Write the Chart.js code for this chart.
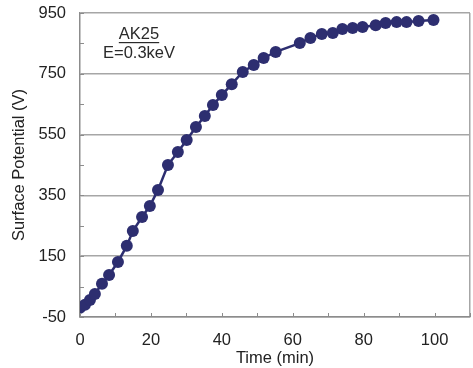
<!DOCTYPE html>
<html>
<head>
<meta charset="utf-8">
<script src="https://cdn.jsdelivr.net/npm/chart.js@4"></script>
<style>
  html, body { margin: 0; padding: 0; background: #fff; overflow: hidden; }
  #wrap { width: 476px; height: 368px; }
</style>
</head>
<body>
<div id="wrap"><canvas id="grafico"></canvas></div>
<script>
// Tempo de carregamento (min) e potencial de superfície medido (V)
const tempos = [0, 1.4, 2.8, 4.2, 6.2, 8.2, 10.7, 13.2, 14.9, 17.5, 19.7, 22,
    24.8, 27.6, 30.1, 32.7, 35.2, 37.5, 40, 42.8, 45.9, 49, 51.8, 55.2,
    62, 65, 68.2, 71.3, 74, 76.9, 79.7, 83.4, 86.2, 89.3, 92.1, 95.5, 99.7];
const potenciais = [-20, -10, 6, 26, 59, 88, 131, 184, 233, 279, 315, 368,
    450, 493, 532, 575, 611, 647, 680, 716, 756, 779, 802, 822,
    851, 868, 881, 884, 897, 901, 904, 910, 917, 920, 920, 924, 927];

const rotulosY = [-50, 150, 350, 550, 750, 950];
const rotulosX = [0, 20, 40, 60, 80, 100];

const amostra = 'AK25';
const energia = 'E=0.3keV';

const corSerie = '#2d2e70';
const corGrade = '#a6a6a6';
const fonte = "'Liberation Sans', Arial, sans-serif";

// Marcas internas dos eixos e a legenda de texto dentro do gráfico
const marcasInternas = {
    id: 'marcasInternas',
    afterDraw(chart) {
        const { ctx, chartArea, scales } = chart;
        ctx.save();
        ctx.strokeStyle = '#8c8c8c';
        ctx.lineWidth = 1;
        ctx.beginPath();
        scales.y.ticks.forEach(t => {
            const py = Math.round(scales.y.getPixelForValue(t.value)) + 0.5;
            ctx.moveTo(chartArea.left, py);
            ctx.lineTo(chartArea.left + 4, py);
        });
        scales.x.ticks.forEach(t => {
            const px = Math.round(scales.x.getPixelForValue(t.value)) + 0.5;
            ctx.moveTo(px, chartArea.bottom);
            ctx.lineTo(px, chartArea.bottom - 4);
        });
        ctx.stroke();

        // texto da amostra
        ctx.fillStyle = '#2a2a2a';
        ctx.font = '16.5px ' + fonte;
        ctx.textAlign = 'center';
        ctx.textBaseline = 'middle';
        const cx = 139;
        ctx.fillText(amostra, cx, 34);
        const w = ctx.measureText(amostra).width;
        ctx.fillRect(cx - w / 2, 42, w, 1.2);
        ctx.fillText(energia, cx, 53);
        ctx.restore();
    }
};

new Chart(document.getElementById('grafico'), {
    type: 'line',
    data: {
        datasets: [{
            data: tempos.map((t, i) => ({ x: t, y: potenciais[i] })),
            borderColor: corSerie,
            backgroundColor: corSerie,
            borderWidth: 2.5,
            pointRadius: 6,
            pointBorderWidth: 0,
            tension: 0
        }]
    },
    options: {
        responsive: true,
        maintainAspectRatio: false,
        animation: false,
        layout: { padding: { top: 13, right: 0, left: 0, bottom: 0 } },
        plugins: {
            legend: { display: false },
            tooltip: { enabled: false }
        },
        scales: {
            x: {
                type: 'linear',
                min: 0,
                max: 110,
                afterFit: (s) => { s.height = 51; s.paddingLeft = 0; s.paddingRight = 0; },
                border: { color: '#8c8c8c', width: 1.5 },
                grid: {
                    drawTicks: false,
                    lineWidth: 1.5,
                    color: (c) => c.tick && c.tick.value === 110 ? corGrade : 'rgba(0,0,0,0)'
                },
                ticks: {
                    stepSize: 10,
                    padding: 14,
                    color: '#222',
                    font: { family: fonte, size: 16.5 },
                    maxRotation: 0,
                    autoSkip: false,
                    callback: (v) => rotulosX.includes(v) ? v : ''
                },
                title: {
                    display: true,
                    text: 'Time (min)',
                    color: '#222',
                    font: { family: fonte, size: 16.5 },
                    padding: { top: 0, bottom: 0 }
                }
            },
            y: {
                min: -50,
                max: 950,
                afterFit: (s) => { s.width = 80; s.paddingTop = 0; s.paddingBottom = 0; },
                border: { color: '#8c8c8c', width: 1.5 },
                grid: {
                    drawTicks: false,
                    lineWidth: 1.5,
                    color: (c) => c.tick && rotulosY.includes(c.tick.value) ? corGrade : 'rgba(0,0,0,0)'
                },
                ticks: {
                    stepSize: 100,
                    padding: 14,
                    color: '#222',
                    font: { family: fonte, size: 16.5 },
                    autoSkip: false,
                    callback: (v) => rotulosY.includes(v) ? v : ''
                },
                title: {
                    display: true,
                    text: 'Surface Potential (V)',
                    color: '#222',
                    font: { family: fonte, size: 16.5 },
                    padding: { top: 10, bottom: 0 }
                }
            }
        }
    },
    plugins: [marcasInternas]
});
</script>
</body>
</html>
